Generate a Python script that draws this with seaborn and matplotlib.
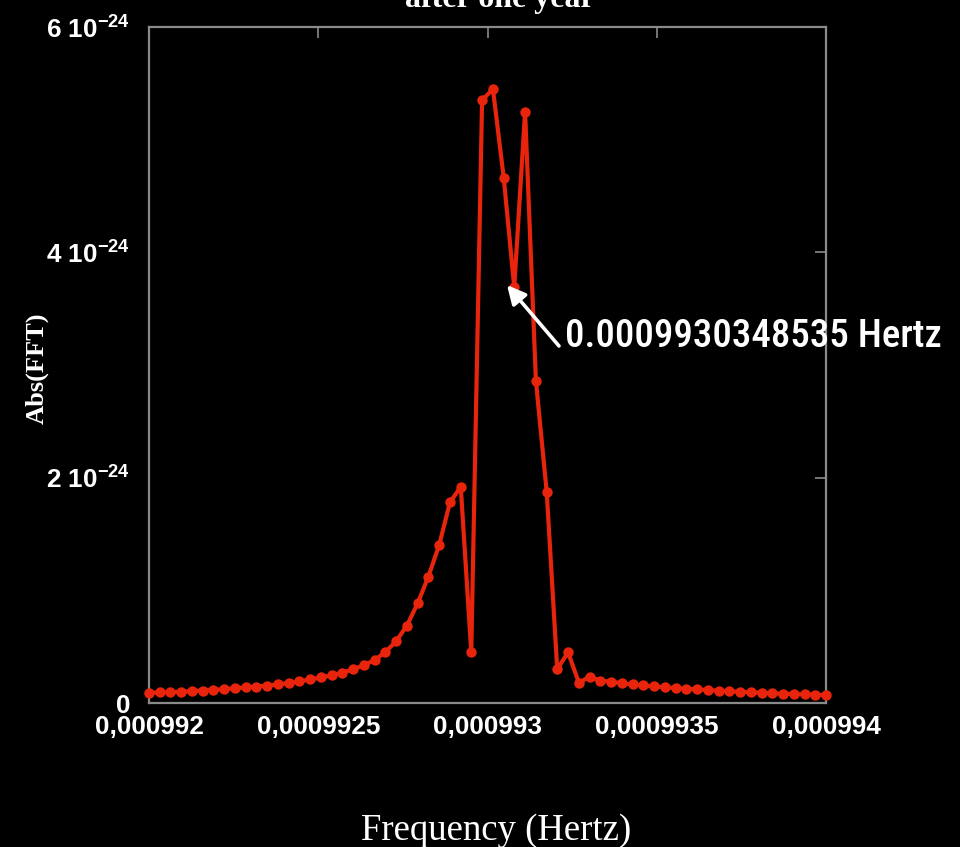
import numpy as np
import pandas as pd
import seaborn as sns
import matplotlib
matplotlib.use("Agg")
import matplotlib.pyplot as plt
from matplotlib import font_manager as fm

# ---------------- data ----------------
freq_hz = [
    0.000992000, 0.000992032, 0.000992063, 0.000992095, 0.000992127, 0.000992159,
    0.000992190, 0.000992222, 0.000992254, 0.000992286, 0.000992317, 0.000992349,
    0.000992381, 0.000992413, 0.000992444, 0.000992476, 0.000992508, 0.000992540,
    0.000992571, 0.000992603, 0.000992635, 0.000992667, 0.000992698, 0.000992730,
    0.000992762, 0.000992794, 0.000992825, 0.000992857, 0.000992889, 0.000992921,
    0.000992952, 0.000992984, 0.000993016, 0.000993048, 0.000993079, 0.000993111,
    0.000993143, 0.000993175, 0.000993206, 0.000993238, 0.000993270, 0.000993302,
    0.000993333, 0.000993365, 0.000993397, 0.000993429, 0.000993460, 0.000993492,
    0.000993524, 0.000993556, 0.000993587, 0.000993619, 0.000993651, 0.000993683,
    0.000993714, 0.000993746, 0.000993778, 0.000993810, 0.000993841, 0.000993873,
    0.000993905, 0.000993937, 0.000993968, 0.000994000,
]
# Abs(FFT) in units of 1e-24
abs_fft_e24 = [
    0.092, 0.094, 0.097, 0.100, 0.106, 0.111, 0.117, 0.123, 0.131, 0.138,
    0.146, 0.155, 0.166, 0.178, 0.192, 0.209, 0.227, 0.246, 0.270, 0.299,
    0.336, 0.382, 0.452, 0.548, 0.688, 0.887, 1.12, 1.40, 1.78, 1.92,
    0.45, 5.35, 5.45, 4.66, 3.69, 5.25, 2.86, 1.87, 0.30, 0.45,
    0.18, 0.234, 0.198, 0.190, 0.175, 0.166, 0.157, 0.148, 0.140, 0.133,
    0.127, 0.121, 0.116, 0.109, 0.104, 0.100, 0.095, 0.092, 0.086, 0.083,
    0.080, 0.077, 0.074, 0.071,
]
x_ticks = [0.000992, 0.0009925, 0.000993, 0.0009935, 0.000994]
x_tick_labels = ["0,000992", "0,0009925", "0,000993", "0,0009935", "0,000994"]
y_ticks_e24 = [0, 2, 4, 6]
y_tick_labels = ["0", "2 10$^{-24}$", "4 10$^{-24}$", "6 10$^{-24}$"]
title_text = "after one year"
x_label = "Frequency (Hertz)"
y_label = "Abs(FFT)"
annot_text = "0.0009930348535 Hertz"
annot_freq = 0.00099305758
annot_val_e24 = 3.71

df = pd.DataFrame({"freq": freq_hz, "abs": np.array(abs_fft_e24) * 1e-24})

# ---------------- style ----------------
sns.set_style("dark")
plt.rcParams.update({
    "figure.facecolor": "black",
    "axes.facecolor": "black",
    "savefig.facecolor": "black",
    "font.family": ["Liberation Sans", "DejaVu Sans"],
    "mathtext.fontset": "custom",
    "mathtext.rm": "Liberation Sans:bold",
    "mathtext.it": "Liberation Sans:bold",
    "mathtext.bf": "Liberation Sans:bold",
    "mathtext.default": "rm",
})

RED = "#e8250c"
GRAY = "#8a8a8a"

fig = plt.figure(figsize=(9.6, 8.47), dpi=100)
ax = fig.add_axes([0.15521, 0.16997, 0.70521, 0.79811])
ax.set_facecolor("black")

sns.lineplot(data=df, x="freq", y="abs", ax=ax, color=RED, linewidth=3.0,
             marker="o", markersize=7.5, markeredgecolor=RED,
             markeredgewidth=0, clip_on=False, zorder=3)

ax.set_xlim(0.000992, 0.000994)
ax.set_ylim(0, 6e-24)
ax.set_xticks(x_ticks)
ax.set_xticklabels(x_tick_labels)
ax.set_yticks([v * 1e-24 for v in y_ticks_e24])
ax.set_yticklabels(y_tick_labels)
ax.set_xlabel("")
ax.set_ylabel("")
ax.grid(False)

for s in ax.spines.values():
    s.set_visible(True)
    s.set_color(GRAY)
    s.set_linewidth(1.6)

ax.tick_params(axis="both", direction="in", length=8, width=1.2, color=GRAY,
               top=True, right=True, labelcolor="white", labelsize=18.8)
ax.tick_params(axis="x", pad=8.5)
ax.tick_params(axis="y", pad=13.5)
for lab in ax.get_xticklabels() + ax.get_yticklabels():
    lab.set_fontweight("bold")
    lab.set_family("Liberation Sans")

# title (partly cut off at the top like the reference)
fig.text(500 / 960, 1 - 7 / 847, title_text, color="white", ha="center",
         va="baseline", family="Liberation Serif", fontweight="bold", fontsize=23)
# axis labels
fig.text(496 / 960, 1 - 840 / 847, x_label, color="white", ha="center",
         va="baseline", family="Liberation Serif", fontsize=26.5)
fig.text(37 / 960, 1 - 368 / 847, y_label, color="white", ha="center",
         va="center", rotation=90, family="Liberation Serif",
         fontweight="bold", fontsize=19)

# arrow annotation
ax.annotate("", xy=(annot_freq, annot_val_e24 * 1e-24),
            xytext=(559 / 960, 1 - 346 / 847), textcoords="figure fraction",
            arrowprops=dict(arrowstyle="-|>", color="white", lw=2.6,
                            mutation_scale=28, shrinkA=0, shrinkB=0),
            zorder=5)

# condensed font for the annotation label
cond_path = None
prefs = ["RobotoCondensed-Medium", "RobotoCondensed-Regular", "LiberationSansNarrow-Regular",
         "DejaVuSansCondensed.ttf", "OpenSans_Condensed", "NotoSans-Condensed", "Condensed", "Narrow"]
paths = [f.fname for f in fm.fontManager.ttflist]
for p in prefs:
    hits = [q for q in paths if p.lower() in q.lower() and "italic" not in q.lower()
            and "bold" not in q.lower() and "oblique" not in q.lower()]
    if hits:
        cond_path = sorted(hits)[0]
        break
if cond_path:
    fp = fm.FontProperties(fname=cond_path, size=34)
else:
    fp = fm.FontProperties(family="DejaVu Sans", stretch="condensed", size=34)

t = fig.text(565 / 960, 1 - 336 / 847, annot_text, color="white", ha="left",
             va="center", fontproperties=fp)
fig.canvas.draw()
w = t.get_window_extent().width
fp.set_size(34 * 378.0 / w)
t.set_fontproperties(fp)

fig.savefig("out.png", dpi=100, facecolor="black")
